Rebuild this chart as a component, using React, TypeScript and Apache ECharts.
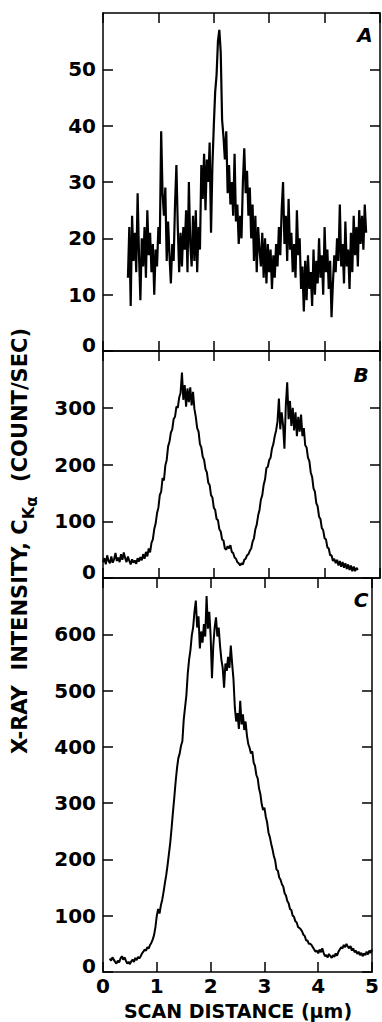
import React, { useEffect, useRef } from "react";
import * as echarts from "echarts";

// ---- data -------------------------------------------------------------
const STEP = 0.025; // scan step (µm)

// Panel A: scan starts at 0.45 µm (count/sec)
const A_X0 = 0.45;
const A_VALUES = [
  13, 22, 8, 24, 16, 21, 14, 28, // 0.450
  17, 9, 20, 15, 22, 13, 25, 17, // 0.650
  21, 14, 19, 10, 18, 15, 22, 19, // 0.850
  39, 28, 24, 29, 16, 23, 17, 12, // 1.050
  19, 16, 26, 33, 22, 14, 21, 15, // 1.250
  22, 18, 25, 14, 30, 19, 15, 24, // 1.450
  16, 25, 14, 22, 18, 33, 27, 35, // 1.650
  25, 34, 30, 37, 21, 33, 40, 46, // 1.850
  49, 55, 57, 53, 41, 38, 34, 39, // 2.050
  28, 33, 26, 30, 24, 35, 23, 26, // 2.250
  19, 24, 20, 30, 36, 28, 32, 24, // 2.450
  29, 20, 26, 16, 24, 14, 22, 18, // 2.650
  15, 21, 13, 20, 12, 19, 14, 18, // 2.850
  11, 17, 13, 19, 15, 22, 17, 25, // 3.050
  30, 19, 24, 16, 27, 18, 21, 14, // 3.250
  19, 13, 25, 17, 20, 11, 15, 7, // 3.450
  16, 9, 17, 11, 14, 8, 18, 10, // 3.650
  16, 12, 20, 13, 17, 10, 22, 14, // 3.850
  18, 11, 16, 6, 12, 17, 14, 20, // 4.050
  16, 26, 15, 19, 12, 23, 15, 18, // 4.250
  11, 21, 14, 24, 17, 22, 15, 25, // 4.450
  19, 24, 18, 26, 21, // 4.650
];

// Panel B: scan starts at 0 µm
const B_X0 = 0;
const B_VALUES = [
  28, 35, 24, 40, 30, 26, 38, 27, // 0.000
  33, 44, 30, 36, 28, 42, 32, 45, // 0.200
  35, 28, 38, 30, 24, 33, 27, 31, // 0.400
  25, 35, 29, 37, 31, 42, 34, 46, // 0.600
  38, 52, 45, 62, 68, 86, 96, 114, // 0.800
  124, 146, 152, 176, 172, 198, 208, 232, // 1.000
  240, 256, 262, 280, 284, 302, 300, 318, // 1.200
  326, 362, 314, 340, 302, 334, 310, 336, // 1.400
  304, 328, 298, 284, 264, 258, 236, 230, // 1.600
  214, 208, 192, 186, 168, 164, 146, 142, // 1.800
  124, 120, 104, 102, 86, 82, 68, 66, // 2.000
  52, 50, 56, 52, 58, 46, 44, 36, // 2.200
  34, 28, 26, 22, 26, 24, 32, 34, // 2.400
  40, 42, 48, 52, 64, 70, 86, 94, // 2.600
  110, 120, 138, 146, 164, 174, 194, 196, // 2.800
  208, 212, 228, 236, 250, 260, 276, 316, // 3.000
  262, 292, 270, 228, 304, 345, 280, 312, // 3.200
  268, 300, 260, 292, 250, 284, 258, 288, // 3.400
  250, 264, 234, 230, 212, 206, 186, 178, // 3.600
  158, 152, 132, 126, 108, 104, 88, 84, // 3.800
  70, 68, 54, 52, 40, 40, 30, 34, // 4.000
  26, 32, 22, 30, 20, 28, 18, 26, // 4.200
  16, 24, 14, 22, 12, 20, 12, 18, // 4.400
  14, // 4.600
];

// Panel C: scan starts at 0.125 µm
const C_X0 = 0.125;
const C_VALUES = [
  24, 20, 26, 22, 18, 15, 20, 17, // 0.125
  24, 28, 22, 26, 20, 15, 18, 14, // 0.325
  19, 22, 18, 25, 21, 27, 24, 28, // 0.525
  33, 36, 40, 38, 44, 42, 48, 52, // 0.725
  58, 66, 80, 100, 112, 104, 118, 128, // 0.925
  142, 158, 172, 190, 210, 230, 256, 284, // 1.125
  310, 338, 362, 380, 388, 402, 410, 448, // 1.325
  470, 492, 530, 555, 572, 598, 612, 640, // 1.525
  660, 612, 632, 575, 605, 585, 618, 596, // 1.725
  668, 610, 640, 598, 522, 580, 612, 630, // 1.925
  596, 612, 580, 555, 540, 505, 548, 535, // 2.125
  560, 540, 580, 548, 520, 470, 445, 460, // 2.325
  432, 482, 440, 458, 430, 445, 420, 405, // 2.525
  398, 388, 392, 372, 366, 350, 344, 326, // 2.725
  316, 298, 288, 292, 276, 266, 248, 240, // 2.925
  228, 218, 206, 198, 182, 180, 168, 164, // 3.125
  156, 152, 140, 136, 126, 122, 112, 110, // 3.325
  100, 98, 90, 88, 80, 78, 76, 72, // 3.525
  66, 64, 56, 56, 50, 50, 48, 44, // 3.725
  40, 36, 38, 33, 40, 35, 42, 34, // 3.925
  28, 30, 26, 32, 28, 25, 30, 27, // 4.125
  33, 29, 36, 40, 44, 42, 48, 44, // 4.325
  50, 45, 42, 46, 38, 42, 35, 38, // 4.525
  32, 36, 30, 34, 28, 33, 30, 36, // 4.725
  31, 38, 34, 40, // 4.925
];

const X_MIN = 0;
const X_MAX = 5;
const X_INTERVAL = 1;
const PANEL_LABELS = ["A", "B", "C"];
const Y_MAX = [60, 400, 700];
const Y_INTERVAL = [10, 100, 100];
const X_TITLE = "SCAN DISTANCE (\u00b5m)";
const Y_TITLE_MAIN = "X-RAY  INTENSITY, C";
const Y_TITLE_SUB1 = "K";
const Y_TITLE_SUB2 = "\u03b1";
const Y_TITLE_TAIL = "  (COUNT/SEC)";

// ---- layout ----------------------------------------------------------
const FONT = "DejaVu Sans";
const GRIDS = [
  { left: 103, top: 13, width: 277, height: 338 },
  { left: 103, top: 351, width: 277, height: 227 },
  { left: 103, top: 578, width: 277, height: 394 },
];
const LETTER_POS = [
  [365, 35],
  [361, 375],
  [361, 600],
];

function toPairs(x0: number, values: number[]) {
  return values.map((v, i) => [+(x0 + i * STEP).toFixed(3), v]);
}

function measure(text: string, size: number) {
  const c = document.createElement("canvas").getContext("2d");
  if (!c) return text.length * size * 0.7;
  c.font = `bold ${size}px "${FONT}"`;
  return c.measureText(text).width;
}

export default function App() {
  const ref = useRef<HTMLDivElement>(null);

  useEffect(() => {
    if (!ref.current) return;
    const chart = echarts.init(ref.current, undefined, { renderer: "svg" });

    const axisLineStyle = { color: "#000", width: 1.5 };
    const labelBase = {
      color: "#000",
      fontFamily: FONT,
      fontWeight: "bold" as const,
      fontSize: 20,
    };

    const xAxis: any[] = [];
    const yAxis: any[] = [];
    GRIDS.forEach((_, i) => {
      ["bottom", "top"].forEach((pos) => {
        xAxis.push({
          gridIndex: i,
          type: "value",
          min: X_MIN,
          max: X_MAX,
          interval: X_INTERVAL,
          position: pos,
          axisLine: { show: true, onZero: false, lineStyle: axisLineStyle },
          axisTick: { show: true, inside: true, length: 10, lineStyle: axisLineStyle },
          axisLabel:
            i === 2 && pos === "bottom"
              ? { ...labelBase, margin: 4 }
              : { show: false },
          splitLine: { show: false },
        });
      });
      ["left", "right"].forEach((pos) => {
        yAxis.push({
          gridIndex: i,
          type: "value",
          min: 0,
          max: Y_MAX[i],
          interval: Y_INTERVAL[i],
          position: pos,
          axisLine: { show: true, onZero: false, lineStyle: axisLineStyle },
          axisTick: { show: true, inside: true, length: 10, lineStyle: axisLineStyle },
          axisLabel:
            pos === "left"
              ? {
                  ...labelBase,
                  margin: 7,
                  showMaxLabel: false,
                  formatter: (v: number) => (v === 0 ? "{z|0}" : String(v)),
                  rich: {
                    z: { ...labelBase, padding: [0, 0, 12, 0] },
                  },
                }
              : { show: false },
          splitLine: { show: false },
        });
      });
    });

    const datasets = [
      toPairs(A_X0, A_VALUES),
      toPairs(B_X0, B_VALUES),
      toPairs(C_X0, C_VALUES),
    ];
    const series = datasets.map((data, i) => ({
      type: "line",
      xAxisIndex: i * 2,
      yAxisIndex: i * 2,
      data,
      showSymbol: false,
      symbol: "none",
      silent: true,
      lineStyle: { color: "#000", width: i === 0 ? 2.2 : 2 },
    }));

    // y-axis title, rotated, with subscripts
    const MS = 21;
    const w1 = measure(Y_TITLE_MAIN, MS);
    const w2 = measure(Y_TITLE_SUB1, 16);
    const w3 = measure(Y_TITLE_SUB2, 15);
    const w4 = measure(Y_TITLE_TAIL, MS);
    const L = w1 + w2 + w3 + w4;
    const x1 = -L / 2;
    const x2 = x1 + w1;
    const x3 = x2 + w2;
    const x4 = x3 + w3;
    const tStyle = (text: string, size: number) => ({
      text,
      fill: "#000",
      font: `bold ${size}px "${FONT}"`,
      textAlign: "left",
      textVerticalAlign: "middle",
    });

    const graphic: any[] = [
      {
        type: "group",
        x: 20,
        y: 541,
        rotation: Math.PI / 2,
        children: [
          { type: "text", x: x1, y: 0, style: tStyle(Y_TITLE_MAIN, MS) },
          { type: "text", x: x2, y: 8, style: tStyle(Y_TITLE_SUB1, 16) },
          { type: "text", x: x3, y: 12, style: tStyle(Y_TITLE_SUB2, 15) },
          { type: "text", x: x4, y: 0, style: tStyle(Y_TITLE_TAIL, MS) },
        ],
      },
      {
        type: "text",
        x: 238,
        y: 1011,
        style: {
          text: X_TITLE,
          fill: "#000",
          font: `bold 19px "${FONT}"`,
          textAlign: "center",
          textVerticalAlign: "middle",
        },
      },
      ...PANEL_LABELS.map((t, i) => ({
        type: "text",
        x: LETTER_POS[i][0],
        y: LETTER_POS[i][1],
        style: {
          text: t,
          fill: "#000",
          font: `italic bold 20px "${FONT}"`,
          textAlign: "center",
          textVerticalAlign: "middle",
        },
      })),
    ];

    chart.setOption({
      animation: false,
      backgroundColor: "#fff",
      grid: GRIDS.map((g) => ({ ...g, containLabel: false })),
      xAxis,
      yAxis,
      series,
      graphic,
    });

    return () => chart.dispose();
  }, []);

  return (
    <div
      ref={ref}
      style={{ position: "absolute", left: 0, top: 0, width: 382, height: 1022 }}
    />
  );
}
